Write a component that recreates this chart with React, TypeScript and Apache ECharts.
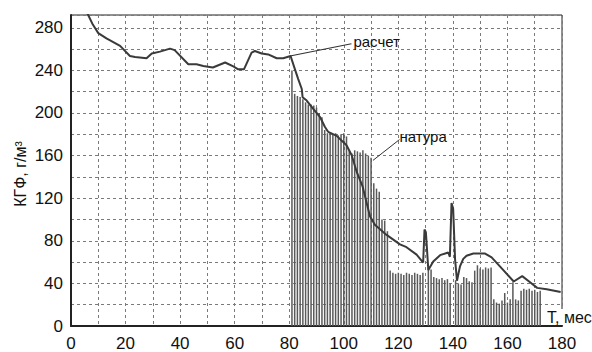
import React, { useEffect, useRef } from "react";
import * as echarts from "echarts";

// X tick labels (months) and Y tick labels (g/m3)
const xLabels = [0, 20, 40, 60, 80, 100, 120, 140, 160, 180];
const yLabels = [0, 40, 80, 120, 160, 200, 240, 280];

// "расчет" (calculated) curve
const calcMonths = [
  4, 6.3, 8, 10, 13, 18, 21.6, 23.5, 27.7, 29.6, 32.6, 36.3, 38, 43, 46, 48.5, 52, 56.5, 59.5, 61.3, 63.4,
  66.2, 67.4, 69.9, 72.3, 75.4, 77.8, 80.5, 82.1, 83.3, 84.6, 84.9, 86.4, 88.8, 91.3, 93.1, 94.3, 97.4,
  101, 102.9, 104.7, 106.9, 109.6, 111.4, 115.7, 120.6, 123, 126.7, 129.1, 129.6, 130.1, 131, 132.8,
  135.3, 138.3, 138.9, 139.5, 140.1, 140.8, 141.5, 142.6, 143.8, 145, 147.5, 151.8, 154.2, 158.5, 162.3,
  165.4, 168.3, 170.9, 174.4, 179.5,
];
const calcValues = [
  302, 292, 283, 275, 270, 263, 253.5, 252.6, 251.4, 255.8, 257.6, 260.4, 259, 245.8, 245.8, 244.2, 242.7,
  247.4, 243.7, 241, 241, 256.7, 258.2, 255.8, 255, 251.4, 251.4, 253.5, 241, 231.8, 222.5, 214.8, 211.7,
  203.9, 196.2, 186.9, 182.2, 178.5, 169.7, 160.4, 145, 131, 103, 95, 85.5, 76.6, 74, 67, 59.6, 90.6, 88,
  52.5, 60.5, 66.5, 69, 65, 115.5, 110, 62.5, 42.5, 56, 63, 66, 68, 68, 64.5, 52.5, 41.8, 46.8, 41, 35.8,
  34.5, 32,
];

// "натура" (field measurements), one bar per month
const fieldMonths = [
  81, 82, 83, 84, 85, 86, 87, 88, 89, 90, 91, 92, 93, 94, 95, 96, 97, 98, 99, 100, 101, 102, 103, 104, 105,
  106, 107, 108, 109, 110, 111, 112, 113, 114, 115, 116, 117, 118, 119, 120, 121, 122, 123, 124, 125, 126,
  127, 128, 129, 131, 132, 133, 134, 135, 136, 137, 138, 139, 141, 142, 143, 144, 145, 146, 147, 148, 149,
  150, 151, 152, 153, 154, 155, 156, 157, 158, 159, 160, 161, 162, 163, 164, 165, 166, 167, 168, 169, 170,
  171, 172,
];
const fieldValues = [
  240, 218, 216, 215, 213, 210, 208, 208, 207, 205, 200, 196, 184, 181, 182, 180, 181, 179, 180, 181, 178,
  164, 162, 165, 164, 163, 165, 162, 160, 158, 134, 129, 126, 100, 99, 89, 52, 50, 49, 50, 49, 48, 50, 49,
  48, 50, 49, 48, 50, 55, 53, 46, 45, 44, 45, 43, 44, 40, 43, 40, 39, 46, 45, 42, 41, 52, 57, 54, 53, 55,
  54, 55, 25, 22, 21, 24, 31, 22, 25, 41, 25, 24, 33, 35, 34, 35, 33, 34, 32, 33,
];

const FONT = "'Liberation Sans', Arial, sans-serif";

export default function App() {
  const ref = useRef<HTMLDivElement>(null);

  useEffect(() => {
    const chart = echarts.init(ref.current!, null, { renderer: "svg" });
    chart.setOption({
      animation: false,
      backgroundColor: "#ffffff",
      grid: {
        left: 71,
        right: 30,
        top: 15,
        bottom: 23,
        show: true,
        borderColor: "#222",
        borderWidth: 1,
        backgroundColor: "transparent",
      },
      xAxis: {
        type: "value",
        min: 0,
        max: 180,
        interval: 10,
        axisLine: { show: true, lineStyle: { color: "#222", width: 2 } },
        axisTick: { show: false },
        axisLabel: {
          color: "#111",
          fontSize: 17,
          fontFamily: FONT,
          margin: 9,
          formatter: (v: number) => (xLabels.includes(v) ? String(v) : ""),
        },
        splitLine: { show: true, lineStyle: { color: "#7a7a7a", type: [3, 3], width: 1 } },
      },
      yAxis: {
        type: "value",
        min: 0,
        max: 292,
        interval: 20,
        axisLine: { show: true, lineStyle: { color: "#222", width: 2 } },
        axisTick: { show: false },
        axisLabel: {
          color: "#111",
          fontSize: 17,
          fontFamily: FONT,
          margin: 8,
          formatter: (v: number) => (yLabels.includes(v) ? String(v) : ""),
        },
        splitLine: { show: true, lineStyle: { color: "#7a7a7a", type: [3, 3], width: 1 } },
      },
      series: [
        {
          name: "натура",
          type: "bar",
          barWidth: 1.5,
          itemStyle: { color: "#595959" },
          data: fieldMonths.map((m, i) => [m, fieldValues[i]]),
          z: 2,
        },
        {
          name: "расчет",
          type: "line",
          showSymbol: false,
          symbol: "none",
          clip: true,
          lineStyle: { color: "#3a3a3a", width: 2 },
          data: calcMonths.map((m, i) => [m, calcValues[i]]),
          z: 3,
        },
      ],
    });

    const px = (x: number, y: number) => chart.convertToPixel({ gridIndex: 0 }, [x, y]) as number[];
    const a1 = px(80.3, 253.5);
    const t1 = px(102.8, 265);
    const a2 = px(110.7, 155.5);
    const t2 = px(120.4, 175);
    chart.setOption({
      graphic: [
        {
          type: "line",
          shape: { x1: a1[0], y1: a1[1], x2: t1[0], y2: t1[1] },
          style: { stroke: "#333", lineWidth: 1.2 },
          z: 10,
        },
        {
          type: "text",
          x: t1[0] + 2,
          y: t1[1] - 2,
          style: { text: "расчет", font: `15px ${FONT}`, fill: "#111", textVerticalAlign: "middle" },
          z: 10,
        },
        {
          type: "line",
          shape: { x1: a2[0], y1: a2[1], x2: t2[0], y2: t2[1] },
          style: { stroke: "#333", lineWidth: 1 },
          z: 10,
        },
        {
          type: "text",
          x: t2[0],
          y: t2[1] - 3,
          style: { text: "натура", font: `15px ${FONT}`, fill: "#111", textVerticalAlign: "middle" },
          z: 10,
        },
        {
          type: "text",
          x: 547,
          y: 317,
          style: {
            text: "Т, мес",
            font: `16px ${FONT}`,
            fill: "#111",
            textVerticalAlign: "middle",
            backgroundColor: "#fff",
          },
          z: 10,
        },
        {
          type: "text",
          x: 20,
          y: 174,
          rotation: Math.PI / 2,
          style: {
            text: "КГФ, г/м³",
            font: `16px ${FONT}`,
            fill: "#111",
            textAlign: "center",
            textVerticalAlign: "middle",
          },
          z: 10,
        },
      ],
    });

    return () => chart.dispose();
  }, []);

  return (
    <div
      ref={ref}
      style={{ position: "fixed", left: 0, top: 0, width: 592, height: 352, background: "#fff" }}
    />
  );
}
